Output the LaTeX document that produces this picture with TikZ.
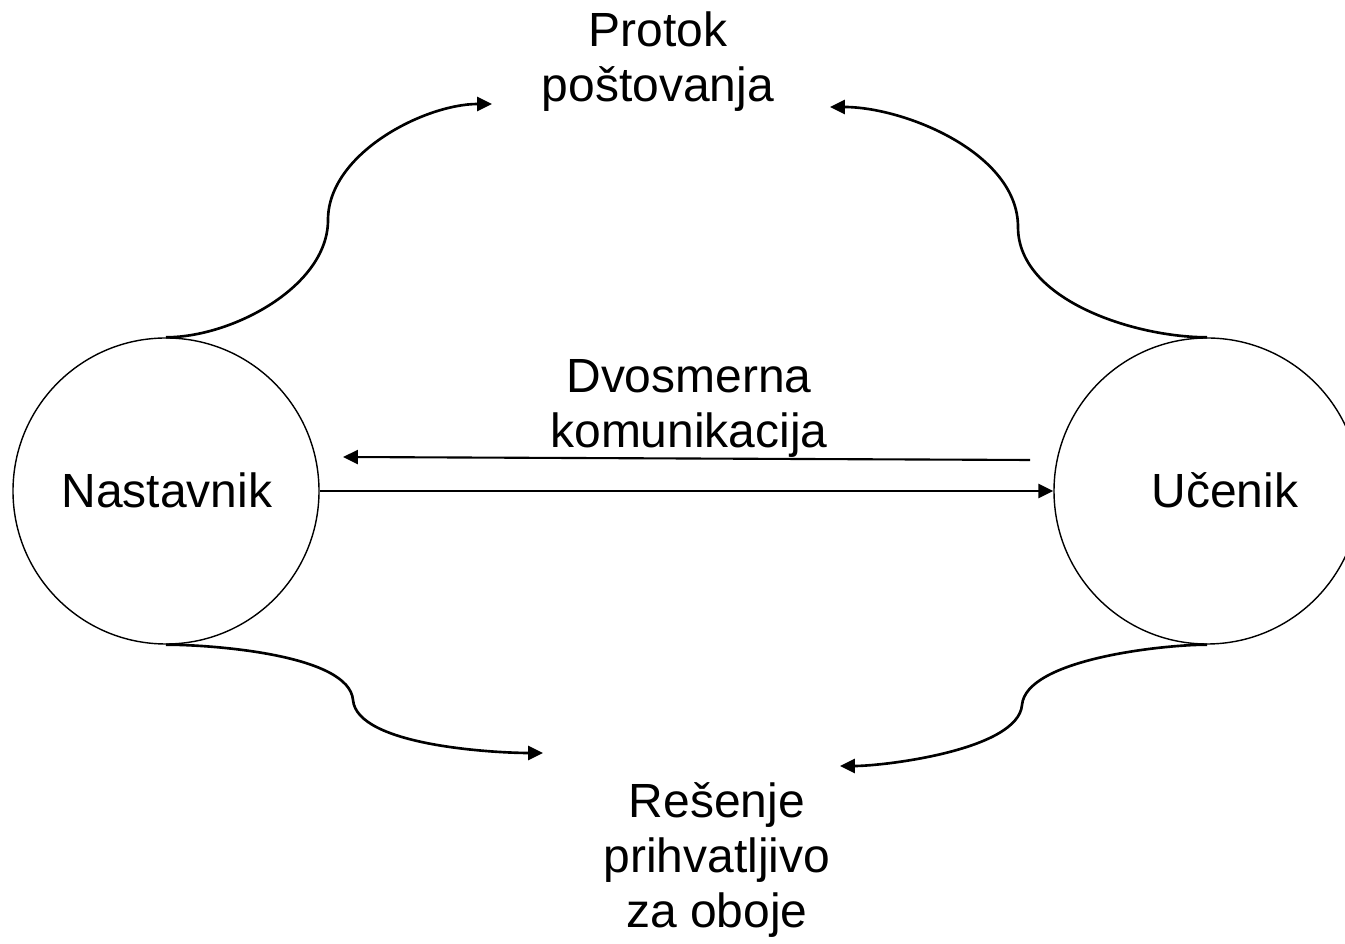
\documentclass[tikz,border=0pt]{standalone}
\usepackage{fontspec}
\setmainfont{Liberation Sans}
\usetikzlibrary{arrows.meta}

\begin{document}
\begin{tikzpicture}[
        person/.style={draw, circle, line width=0.8pt, minimum size=6.12cm, inner sep=0pt},
        txt/.style={font=\fontsize{27.3}{31.3}\selectfont, align=center},
        flow/.style={-{Triangle[length=8.5pt, width=8pt]}, line width=1.5pt},
        arr/.style={-{Triangle[length=8.5pt, width=8pt]}, line width=1.2pt}
    ]
        \useasboundingbox (0,0) rectangle (26.9,18.88);

        % Persons
        \node[person] (nast) at (3.32, 9.06) {};
        \node[person] (ucen) at (24.14, 9.06) {};
        \node[txt] (nastT) at (3.34, 9.08) {Nastavnik};
        \node[txt] (ucenT) at (24.5, 9.08) {Učenik};

        % Labels
        \node[txt] (protok) at (13.16, 17.64) {Protok\\poštovanja};
        \node[txt] (komun) at (13.78, 10.72) {Dvosmerna\\komunikacija};
        \node[txt] (resenje) at (14.34, 1.68) {Rešenje\\prihvatljivo\\za oboje};

        % Arrow ends
        \coordinate (topL) at (9.84, 16.8);
        \coordinate (topR) at (16.6, 16.74);
        \coordinate (botL) at (10.86, 3.82);
        \coordinate (botR) at (16.8, 3.56);
        \coordinate (komA) at (20.6, 9.68);
        \coordinate (komB) at (6.86, 9.74);

        % Top curves
        \draw[flow, looseness=0.85] (nast.north) to[out=0, in=-90] (6.56, 14.48) to[out=90, in=180] (topL);
        \draw[flow, looseness=0.85] (ucen.north) to[out=180, in=-90] (20.36, 14.34) to[out=90, in=0] (topR);

        % Middle arrows
        \draw[arr] (komA) -- (komB);
        \draw[arr] (nast.east) -- (ucen.west);

        % Bottom curves
        \draw[flow, looseness=0.6] (nast.south) to[out=0, in=95] (7.06, 4.88) to[out=-85, in=180] (botL);
        \draw[flow, looseness=0.6] (ucen.south) to[out=180, in=85] (20.44, 4.78) to[out=-95, in=0] (botR);
    \end{tikzpicture}
\end{document}
